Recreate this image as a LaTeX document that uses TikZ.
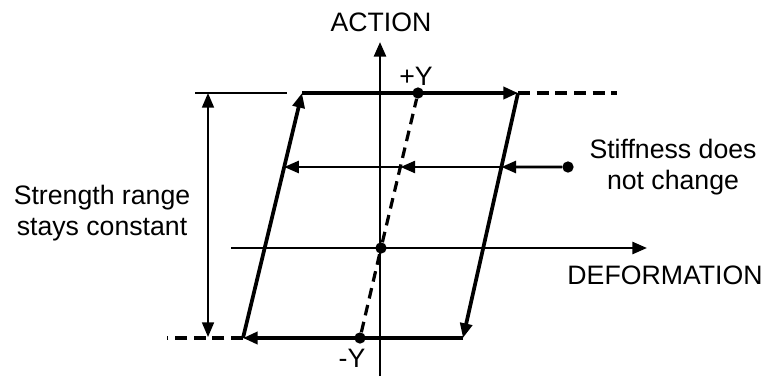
\documentclass[tikz,border=0pt]{standalone}
\usepackage{fontspec}
\setmainfont{Liberation Sans}
\usepackage{tikz}
\usetikzlibrary{calc,arrows.meta,positioning}

\begin{document}
\begin{tikzpicture}[
  x=0.75pt, y=-0.75pt,
  tip/.style={-{Triangle[length=11pt,width=9pt]}},
  loopline/.style={line width=2.8pt, tip},
  axisline/.style={line width=2pt, tip},
  thinline/.style={line width=1.3pt},
  dashline/.style={line width=2.8pt, dash pattern=on 9pt off 5pt},
  dot/.style={circle, fill, inner sep=0pt, minimum size=8.5pt},
  lbl/.style={font=\fontsize{20}{23}\selectfont, inner sep=0pt, align=center}
]
\useasboundingbox (0,0) rectangle (766,376);
% corners of the loop
\coordinate (ltop) at (302,93);
\coordinate (rtop) at (518,93);
\coordinate (lbot) at (243,338);
\coordinate (rbot) at (463,338);
\coordinate (rend) at (617,93);
\coordinate (lend) at (167,338);
% axes
\coordinate (ybot) at (380,376);
\coordinate (ytop) at (380,42);
\coordinate (xleft) at (231,248);
\coordinate (xright) at (647,248);
\draw[axisline] (ybot) -- (ytop);
\draw[axisline] (xleft) -- (xright);
\node[lbl] (act) at (381,22) {ACTION};
\node[lbl] (def) at (665,275) {DEFORMATION};
% yield points
\node[dot] (yplus) at (418,93) {};
\node[dot] (yminus) at (360,338) {};
\node[dot] (orig) at (381,248) {};
\node[lbl] (yplbl) at (416,76) {+Y};
\node[lbl] (ymlbl) at (352,358) {-Y};
\draw[dashline, line width=2.4pt, dash pattern=on 8pt off 5pt] (yminus) -- (orig) -- (yplus);
% the loop
\draw[loopline] (lbot) -- (ltop);
\draw[loopline] (ltop) -- (rtop);
\draw[loopline] (rtop) -- (rbot);
\draw[loopline] (rbot) -- (lbot);
\draw[dashline] (rtop) -- (rend);
\draw[dashline] (lbot) -- (lend);
% stiffness arrows
\node[dot] (sdot) at (568,167) {};
\coordinate (m1) at ($(rtop)!0.302!(rbot)$);
\coordinate (m2) at ($(yplus)!0.302!(yminus)$);
\coordinate (m3) at ($(ltop)!0.302!(lbot)$);
\draw[axisline] (sdot) -- (m1);
\draw[axisline] (m1) -- (m2);
\draw[axisline] (m2) -- (m3);
\node[lbl] (stiff) at (673,167) {Stiffness does\\not change};
% strength range
\coordinate (ext1) at (195,93);
\coordinate (ext2) at (287,93);
\draw[thinline] (ext1) -- (ext2);
\coordinate (dtop) at (208,93);
\coordinate (dbot) at (208,337);
\draw[thinline, {Triangle[length=11pt,width=9pt]}-{Triangle[length=11pt,width=9pt]}] (dtop) -- (dbot);
\node[lbl] (strength) at (102,213) {Strength range\\stays constant};
\end{tikzpicture}
\end{document}
